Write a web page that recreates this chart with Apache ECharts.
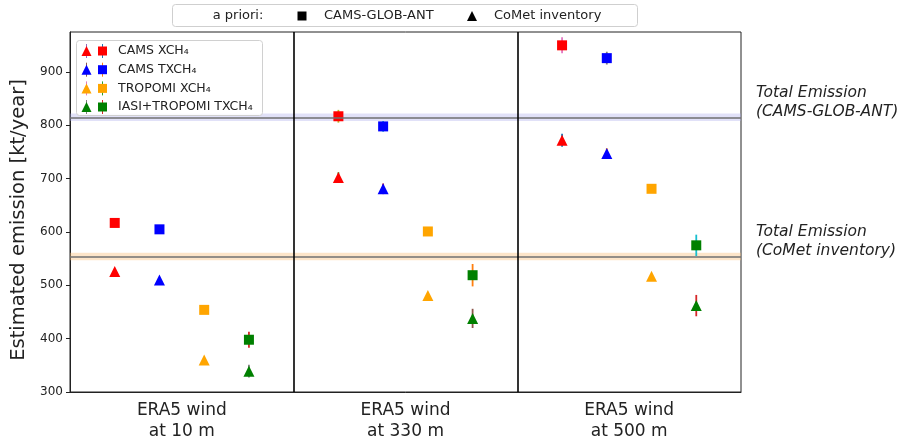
<!DOCTYPE html>
<html>
<head>
<meta charset="utf-8">
<script src="https://cdn.jsdelivr.net/npm/echarts@6/dist/echarts.min.js"></script>
<style>
  html, body { margin: 0; padding: 0; background: #fff; }
  #chart { width: 908px; height: 442px; }
</style>
</head>
<body>
<div id="chart"></div>
<script>
// x categories
const categories = ['ERA5 wind\nat 10 m', 'ERA5 wind\nat 330 m', 'ERA5 wind\nat 500 m'];
const seriesNames = ['CAMS XCH₄', 'CAMS TXCH₄', 'TROPOMI XCH₄', 'IASI+TROPOMI TXCH₄'];

// a priori CAMS-GLOB-ANT (squares)
const camsXGlob = [617, 817, 950];
const camsTGlob = [605, 798, 926];
const tropomiGlob = [454, 601, 681];
const iasiGlob = [398, 519, 575];
const camsXGlobErr = [3, 12, 15];
const camsTGlobErr = [2, 10, 12];
const tropomiGlobErr = [0, 0, 0];
const iasiGlobErr = [15, 21, 20];

// a priori CoMet inventory (triangles)
const camsXComet = [526, 702, 772];
const camsTComet = [510, 681, 747];
const tropomiComet = [360, 481, 517];
const iasiComet = [339, 438, 462];
const camsXCometErr = [2, 10, 12];
const camsTCometErr = [2, 10, 10];
const tropomiCometErr = [0, 0, 0];
const iasiCometErr = [12, 18, 20];

// total emissions of the inventories
const totalGlob = 815;
const totalComet = 554;
const totalBand = 7;

const globVals = [camsXGlob, camsTGlob, tropomiGlob, iasiGlob];
const globErrs = [camsXGlobErr, camsTGlobErr, tropomiGlobErr, iasiGlobErr];
const cometVals = [camsXComet, camsTComet, tropomiComet, iasiComet];
const cometErrs = [camsXCometErr, camsTCometErr, tropomiCometErr, iasiCometErr];

const colors = ['#ff0000', '#0000ff', '#ffa500', '#008000'];
const offsets = [-0.3, -0.1, 0.1, 0.3];
// matplotlib default cycle, used for the error bars
const tab10 = ['#1f77b4', '#ff7f0e', '#2ca02c', '#d62728', '#9467bd',
  '#8c564b', '#e377c2', '#7f7f7f', '#bcbd22', '#17becf'];
const font = 'DejaVu Sans';

const series = [];
const errData = [];

for (let s = 0; s < 4; s++) {
  series.push({
    type: 'scatter', name: seriesNames[s] + ' glob', xAxisIndex: 1,
    symbol: 'rect', symbolSize: 10, z: 4,
    itemStyle: { color: colors[s], opacity: 1 },
    data: categories.map((c, i) => [i + offsets[s], globVals[s][i]])
  });
  series.push({
    type: 'scatter', name: seriesNames[s] + ' comet', xAxisIndex: 1,
    symbol: 'triangle', symbolSize: [11, 11], z: 4,
    itemStyle: { color: colors[s], opacity: 1 },
    data: categories.map((c, i) => [i + offsets[s], cometVals[s][i]])
  });
  categories.forEach((c, i) => {
    errData.push([i + offsets[s], globVals[s][i], globErrs[s][i], (i * 8 + s) % 10]);
    errData.push([i + offsets[s], cometVals[s][i], cometErrs[s][i], (i * 8 + 4 + s) % 10]);
  });
}

series.push({
  type: 'custom', name: 'err', xAxisIndex: 1, z: 3,
  data: errData,
  encode: { x: 0, y: 1 },
  renderItem: function (params, api) {
    const x = api.value(0), y = api.value(1), e = api.value(2);
    if (!e) return;
    const p1 = api.coord([x, y - e]);
    const p2 = api.coord([x, y + e]);
    return {
      type: 'line',
      shape: { x1: p1[0], y1: p1[1], x2: p2[0], y2: p2[1] },
      style: { stroke: tab10[api.value(3)], lineWidth: 1.8 }
    };
  }
});

// reference lines + dividers
series.push({
  type: 'line', xAxisIndex: 1, data: [], silent: true, z: 1,
  markArea: {
    silent: true,
    data: [
      [{ yAxis: totalGlob - totalBand, itemStyle: { color: 'rgba(170,170,235,0.35)' } }, { yAxis: totalGlob + totalBand }],
      [{ yAxis: totalComet - totalBand, itemStyle: { color: 'rgba(250,190,120,0.4)' } }, { yAxis: totalComet + totalBand }]
    ]
  },
  markLine: {
    silent: true, symbol: 'none', label: { show: false },
    data: [
      { yAxis: totalGlob, lineStyle: { color: '#707070', width: 1.5, type: 'solid' } },
      { yAxis: totalComet, lineStyle: { color: '#707070', width: 1.5, type: 'solid' } },
      { xAxis: 0.5, lineStyle: { color: '#000', width: 1.6, type: 'solid' } },
      { xAxis: 1.5, lineStyle: { color: '#000', width: 1.6, type: 'solid' } }
    ]
  }
});

function tri(cx, cy, r, fill) {
  return {
    type: 'polygon', z: 20,
    shape: { points: [[cx, cy - r], [cx - r, cy + r], [cx + r, cy + r]] },
    style: { fill: fill }
  };
}
function sq(cx, cy, r, fill) {
  return { type: 'rect', z: 20, shape: { x: cx - r, y: cy - r, width: 2 * r, height: 2 * r }, style: { fill: fill } };
}
function txt(x, y, t, size, extra) {
  return {
    type: 'text', z: 21, x: x, y: y,
    style: Object.assign({ text: t, font: size + 'px "' + font + '"', fill: '#222', textVerticalAlign: 'middle' }, extra || {})
  };
}

const graphic = [
  // top legend
  { type: 'rect', z: 19, shape: { x: 172.5, y: 4.5, width: 465, height: 22, r: 3 }, style: { fill: '#fff', stroke: '#cfcfcf', lineWidth: 1 } },
  txt(238, 16, 'a priori:', 13, { textAlign: 'center' }),
  sq(302, 16, 4.5, '#000'),
  txt(324, 16, 'CAMS-GLOB-ANT', 13),
  tri(472, 16, 5, '#000'),
  txt(494, 16, 'CoMet inventory', 13),
  // inner legend
  { type: 'rect', z: 19, shape: { x: 76.5, y: 40.5, width: 186, height: 75, r: 3 }, style: { fill: 'rgba(255,255,255,0.85)', stroke: '#d0d0d0', lineWidth: 1 } },
  // annotations
  txt(756, 93, 'Total Emission', 15, { font: 'italic 15.5px "' + font + '"' }),
  txt(756, 112, '(CAMS-GLOB-ANT)', 15, { font: 'italic 15.5px "' + font + '"' }),
  txt(756, 232, 'Total Emission', 15, { font: 'italic 15.5px "' + font + '"' }),
  txt(756, 251, '(CoMet inventory)', 15, { font: 'italic 15.5px "' + font + '"' })
];
const rowY = [51, 69.7, 88.4, 107];
for (let s = 0; s < 4; s++) {
  graphic.push({ type: 'line', z: 20, shape: { x1: 86.5, y1: rowY[s] - 7, x2: 86.5, y2: rowY[s] + 7 }, style: { stroke: tab10[(s + 4) % 10], lineWidth: 1 } });
  graphic.push({ type: 'line', z: 20, shape: { x1: 102.5, y1: rowY[s] - 7, x2: 102.5, y2: rowY[s] + 7 }, style: { stroke: tab10[s % 10], lineWidth: 1 } });
  graphic.push(tri(86.5, rowY[s], 5, colors[s]));
  graphic.push(sq(102.5, rowY[s], 4.5, colors[s]));
  graphic.push(txt(118, rowY[s], seriesNames[s], 12.5));
}

const chart = echarts.init(document.getElementById('chart'));
chart.setOption({
  animation: false,
  textStyle: { fontFamily: font },
  grid: { left: 70, right: 167, top: 32, bottom: 49, show: true, borderColor: '#222', borderWidth: 1, backgroundColor: 'transparent' },
  xAxis: [
    {
      type: 'category', data: categories, boundaryGap: true,
      axisLine: { onZero: false, lineStyle: { color: '#222' } },
      axisTick: { alignWithLabel: true, length: 4, lineStyle: { color: '#222' } },
      axisLabel: { fontSize: 17, lineHeight: 21, color: '#222', margin: 8 },
      splitLine: { show: false }
    },
    { type: 'value', min: -0.5, max: 2.5, show: false, axisLine: { onZero: false }, splitLine: { show: false } }
  ],
  yAxis: {
    type: 'value', min: 300, max: 975, interval: 100,
    name: 'Estimated emission [kt/year]', nameLocation: 'middle', nameGap: 36,
    nameTextStyle: { fontSize: 19.5, color: '#222', padding: [0, 16, 0, 0] },
    axisLine: { show: true, onZero: false, lineStyle: { color: '#222' } },
    axisTick: { show: true, length: 4, lineStyle: { color: '#222' } },
    axisLabel: { fontSize: 12, color: '#222', margin: 7, showMaxLabel: false },
    splitLine: { show: false }
  },
  series: series,
  graphic: graphic
});
</script>
</body>
</html>
